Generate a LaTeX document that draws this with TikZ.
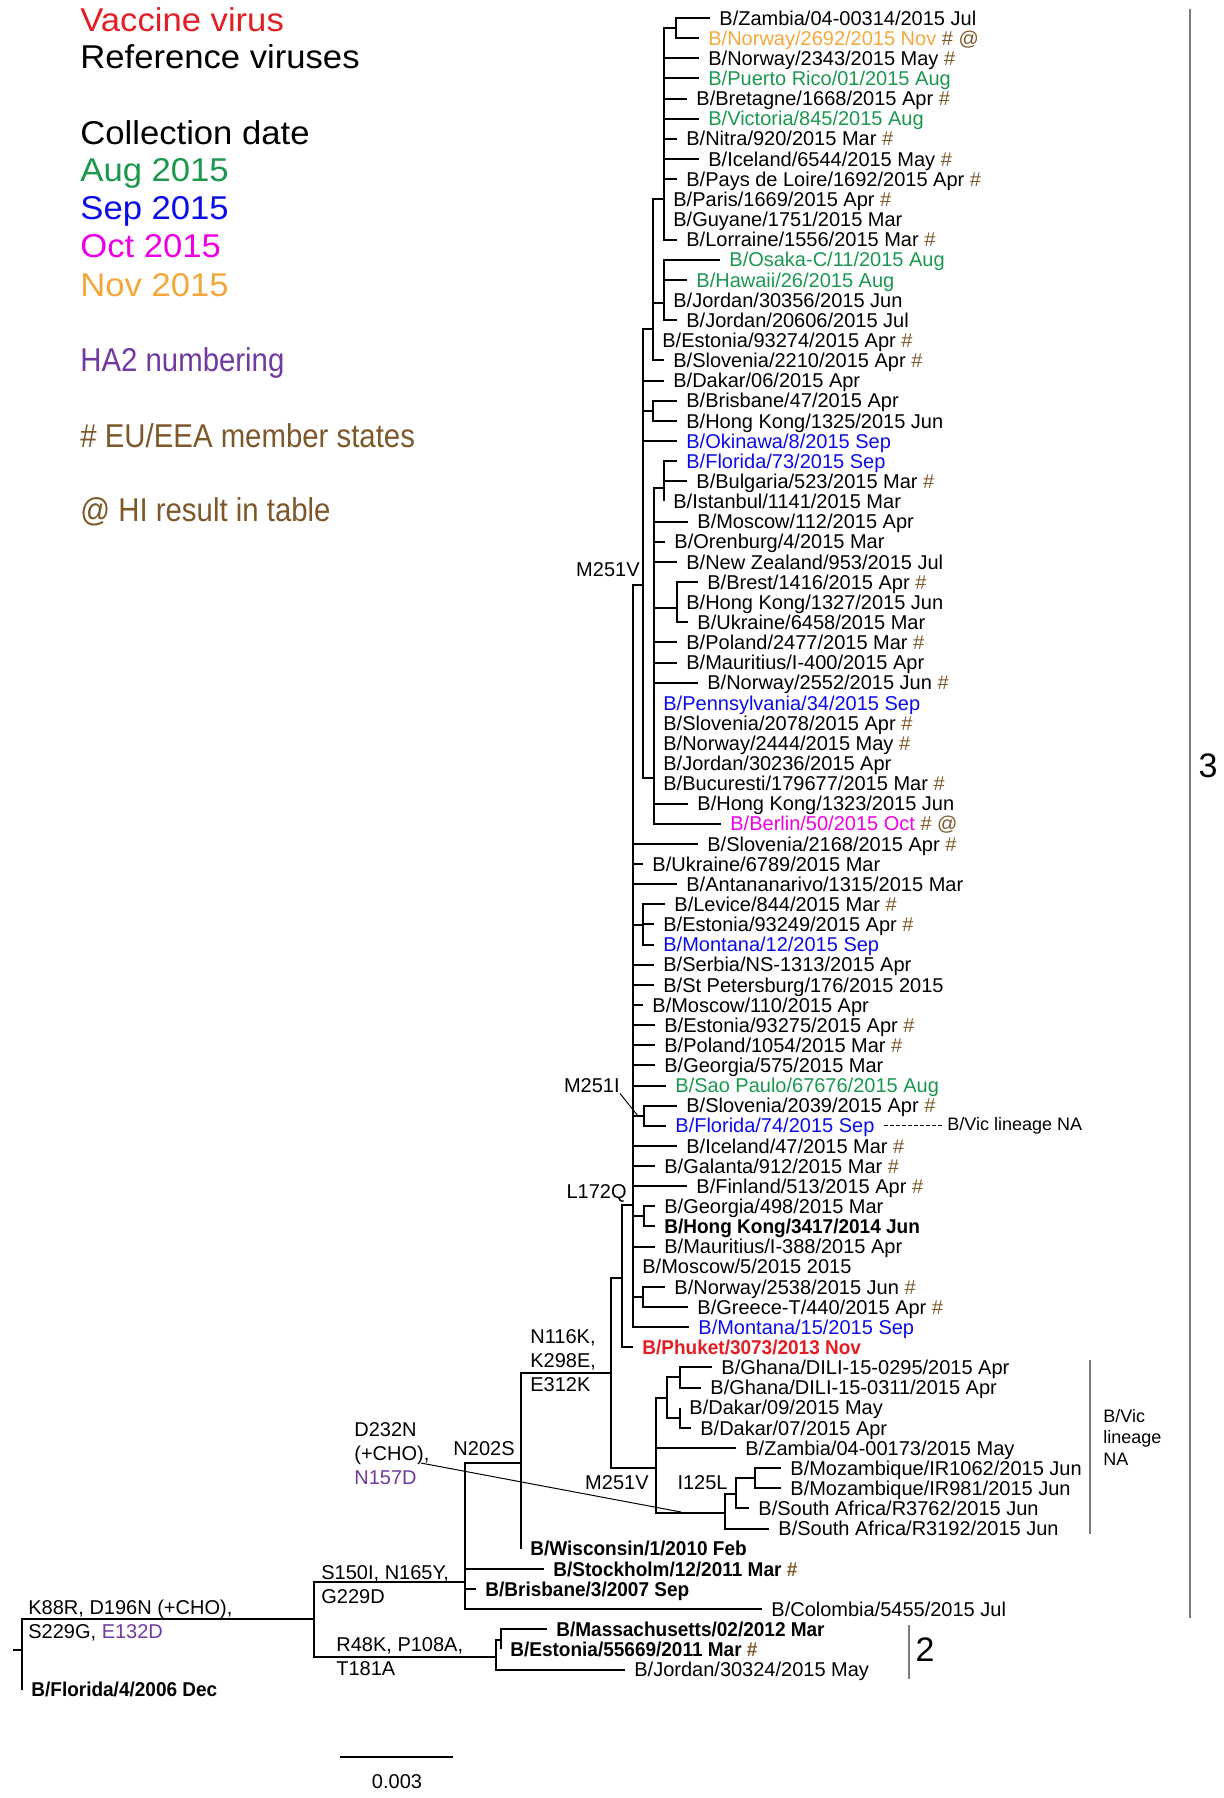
\documentclass[tikz,border=0pt]{standalone}
\usepackage{fontspec}
\setmainfont{Liberation Sans}
\newfontfamily\legwide{Liberation Sans}[FakeStretch=1.05]
\newfontfamily\legnarrow{Liberation Sans}[FakeStretch=0.89]
\newfontfamily\refnarrow{Liberation Sans}[FakeStretch=0.95]
\usepackage{xcolor}
\usepackage{tikz}
\usetikzlibrary{positioning}

\definecolor{vacred}{RGB}{227,30,36}
\definecolor{auggreen}{RGB}{27,152,78}
\definecolor{sepblue}{RGB}{12,12,232}
\definecolor{octmagenta}{RGB}{238,0,230}
\definecolor{novorange}{RGB}{244,168,60}
\definecolor{ha2purple}{RGB}{112,58,160}
\definecolor{eubrown}{RGB}{125,88,42}
\definecolor{bargray}{RGB}{125,125,125}

\newcommand{\eumark}{\textcolor{eubrown}{\#}}
\newcommand{\himark}{\textcolor{eubrown}{@}}

\begin{document}
\begin{tikzpicture}[
    x=0.5pt, y=-0.5pt,
    brline/.style={line width=1pt, black},
    leader/.style={line width=0.5pt, black},
    leaf/.style={anchor=west, inner xsep=4.5pt, inner ysep=0pt, font=\fontsize{10}{12}\selectfont, text height=7.2pt, text depth=0pt},
    refleaf/.style={leaf, font=\refnarrow\fontsize{10}{12}\selectfont\bfseries},
    mut/.style={inner sep=0pt, font=\fontsize{10}{12}\selectfont, align=left},
    legtext/.style={anchor=west, inner sep=0pt, font=\legwide\fontsize{16.5}{19}\selectfont, text height=11.8pt, text depth=0pt},
    legsmall/.style={legtext, font=\legnarrow\fontsize{16.5}{19}\selectfont},
    vicnote/.style={anchor=west, inner xsep=2pt, inner ysep=0pt, font=\fontsize{9}{10.75}\selectfont, align=left},
    cladebar/.style={draw=bargray, line width=1.2pt},
    cladenum/.style={inner sep=0pt, font=\fontsize{17}{20}\selectfont}
]
\useasboundingbox (0,0) rectangle (1223,1798);

% Legend
\node[legtext, text=vacred] (legVaccine) at (80,19.5) {Vaccine virus};
\node[legtext] (legReference) at (80,57) {Reference viruses};
\node[legtext] (legCollection) at (80,133) {Collection date};
\node[legtext, text=auggreen] (legAug) at (80,170) {Aug 2015};
\node[legtext, text=sepblue] (legSep) at (80,208) {Sep 2015};
\node[legtext, text=octmagenta] (legOct) at (80,246) {Oct 2015};
\node[legtext, text=novorange] (legNov) at (80,285) {Nov 2015};
\node[legsmall, text=ha2purple] (legHA2) at (80,360) {HA2 numbering};
\node[legsmall, text=eubrown] (legEU) at (80,436) {\# EU/EEA member states};
\node[legsmall, text=eubrown] (legHI) at (80,510) {@ HI result in table};

% Leaves
\node[leaf] (lZambiaA) at (710,18) {B/Zambia/04-00314/2015 Jul};
\node[leaf, text=novorange] (lNorway2692) at (699,38.1) {B/Norway/2692/2015 Nov \eumark\ \himark};
\node[leaf] (lNorway2343) at (699,58.3) {B/Norway/2343/2015 May \eumark};
\node[leaf, text=auggreen] (lPuertoRico) at (699,78.4) {B/Puerto Rico/01/2015 Aug};
\node[leaf] (lBretagne) at (687,98.6) {B/Bretagne/1668/2015 Apr \eumark};
\node[leaf, text=auggreen] (lVictoria) at (699,118.7) {B/Victoria/845/2015 Aug};
\node[leaf] (lNitra) at (677,138.8) {B/Nitra/920/2015 Mar \eumark};
\node[leaf] (lIceland6544) at (699,159) {B/Iceland/6544/2015 May \eumark};
\node[leaf] (lPaysLoire) at (677,179.1) {B/Pays de Loire/1692/2015 Apr \eumark};
\node[leaf] (lParis) at (664,199.3) {B/Paris/1669/2015 Apr \eumark};
\node[leaf] (lGuyane) at (664,219.4) {B/Guyane/1751/2015 Mar};
\node[leaf] (lLorraine) at (677,239.5) {B/Lorraine/1556/2015 Mar \eumark};
\node[leaf, text=auggreen] (lOsaka) at (720,259.7) {B/Osaka-C/11/2015 Aug};
\node[leaf, text=auggreen] (lHawaii) at (687,279.8) {B/Hawaii/26/2015 Aug};
\node[leaf] (lJordan30356) at (664,300) {B/Jordan/30356/2015 Jun};
\node[leaf] (lJordan20606) at (677,320.1) {B/Jordan/20606/2015 Jul};
\node[leaf] (lEstonia93274) at (653,340.2) {B/Estonia/93274/2015 Apr \eumark};
\node[leaf] (lSlovenia2210) at (664,360.4) {B/Slovenia/2210/2015 Apr \eumark};
\node[leaf] (lDakar06) at (664,380.5) {B/Dakar/06/2015 Apr};
\node[leaf] (lBrisbane47) at (677,400.7) {B/Brisbane/47/2015 Apr};
\node[leaf] (lHK1325) at (677,420.8) {B/Hong Kong/1325/2015 Jun};
\node[leaf, text=sepblue] (lOkinawa) at (677,441) {B/Okinawa/8/2015 Sep};
\node[leaf, text=sepblue] (lFlorida73) at (677,461.1) {B/Florida/73/2015 Sep};
\node[leaf] (lBulgaria) at (687,481.2) {B/Bulgaria/523/2015 Mar \eumark};
\node[leaf] (lIstanbul) at (664,501.4) {B/Istanbul/1141/2015 Mar};
\node[leaf] (lMoscow112) at (688,521.5) {B/Moscow/112/2015 Apr};
\node[leaf] (lOrenburg) at (665,541.7) {B/Orenburg/4/2015 Mar};
\node[leaf] (lNewZealand) at (677,561.8) {B/New Zealand/953/2015 Jul};
\node[leaf] (lBrest) at (698,581.9) {B/Brest/1416/2015 Apr \eumark};
\node[leaf] (lHK1327) at (677,602.1) {B/Hong Kong/1327/2015 Jun};
\node[leaf] (lUkraine6458) at (688,622.2) {B/Ukraine/6458/2015 Mar};
\node[leaf] (lPoland2477) at (677,642.4) {B/Poland/2477/2015 Mar \eumark};
\node[leaf] (lMauritius400) at (677,662.5) {B/Mauritius/I-400/2015 Apr};
\node[leaf] (lNorway2552) at (698,682.6) {B/Norway/2552/2015 Jun \eumark};
\node[leaf, text=sepblue] (lPennsylvania) at (654,702.8) {B/Pennsylvania/34/2015 Sep};
\node[leaf] (lSlovenia2078) at (654,722.9) {B/Slovenia/2078/2015 Apr \eumark};
\node[leaf] (lNorway2444) at (654,743.1) {B/Norway/2444/2015 May \eumark};
\node[leaf] (lJordan30236) at (654,763.2) {B/Jordan/30236/2015 Apr};
\node[leaf] (lBucuresti) at (654,783.3) {B/Bucuresti/179677/2015 Mar \eumark};
\node[leaf] (lHK1323) at (688,803.5) {B/Hong Kong/1323/2015 Jun};
\node[leaf, text=octmagenta] (lBerlin) at (721,823.6) {B/Berlin/50/2015 Oct \eumark\ \himark};
\node[leaf] (lSlovenia2168) at (698,843.8) {B/Slovenia/2168/2015 Apr \eumark};
\node[leaf] (lUkraine6789) at (643,863.9) {B/Ukraine/6789/2015 Mar};
\node[leaf] (lAntananarivo) at (677,884) {B/Antananarivo/1315/2015 Mar};
\node[leaf] (lLevice) at (665,904.2) {B/Levice/844/2015 Mar \eumark};
\node[leaf] (lEstonia93249) at (654,924.3) {B/Estonia/93249/2015 Apr \eumark};
\node[leaf, text=sepblue] (lMontana12) at (654,944.5) {B/Montana/12/2015 Sep};
\node[leaf] (lSerbia) at (654,964.6) {B/Serbia/NS-1313/2015 Apr};
\node[leaf] (lStPetersburg) at (654,984.8) {B/St Petersburg/176/2015 2015};
\node[leaf] (lMoscow110) at (643,1004.9) {B/Moscow/110/2015 Apr};
\node[leaf] (lEstonia93275) at (655,1025) {B/Estonia/93275/2015 Apr \eumark};
\node[leaf] (lPoland1054) at (655,1045.2) {B/Poland/1054/2015 Mar \eumark};
\node[leaf] (lGeorgia575) at (655,1065.3) {B/Georgia/575/2015 Mar};
\node[leaf, text=auggreen] (lSaoPaulo) at (666,1085.5) {B/Sao Paulo/67676/2015 Aug};
\node[leaf] (lSlovenia2039) at (677,1105.6) {B/Slovenia/2039/2015 Apr \eumark};
\node[leaf, text=sepblue] (lFlorida74) at (666,1125.7) {B/Florida/74/2015 Sep};
\node[leaf] (lIceland47) at (677,1145.9) {B/Iceland/47/2015 Mar \eumark};
\node[leaf] (lGalanta) at (655,1166) {B/Galanta/912/2015 Mar \eumark};
\node[leaf] (lFinland) at (687,1186.2) {B/Finland/513/2015 Apr \eumark};
\node[leaf] (lGeorgia498) at (655,1206.3) {B/Georgia/498/2015 Mar};
\node[refleaf] (lHK3417) at (655,1226.4) {B/Hong Kong/3417/2014 Jun};
\node[leaf] (lMauritius388) at (655,1246.6) {B/Mauritius/I-388/2015 Apr};
\node[leaf] (lMoscow5) at (633,1266.7) {B/Moscow/5/2015 2015};
\node[leaf] (lNorway2538) at (665,1286.9) {B/Norway/2538/2015 Jun \eumark};
\node[leaf] (lGreece) at (688,1307) {B/Greece-T/440/2015 Apr \eumark};
\node[leaf, text=sepblue] (lMontana15) at (689,1327.1) {B/Montana/15/2015 Sep};
\node[refleaf, text=vacred] (lPhuket) at (633,1347.3) {B/Phuket/3073/2013 Nov};
\node[leaf] (lGhana0295) at (712,1367.4) {B/Ghana/DILI-15-0295/2015 Apr};
\node[leaf] (lGhana0311) at (701,1387.6) {B/Ghana/DILI-15-0311/2015 Apr};
\node[leaf] (lDakar09) at (680,1407.7) {B/Dakar/09/2015 May};
\node[leaf] (lDakar07) at (691,1427.8) {B/Dakar/07/2015 Apr};
\node[leaf] (lZambiaB) at (736,1448) {B/Zambia/04-00173/2015 May};
\node[leaf] (lMozambique1062) at (781,1468.1) {B/Mozambique/IR1062/2015 Jun};
\node[leaf] (lMozambique981) at (781,1488.3) {B/Mozambique/IR981/2015 Jun};
\node[leaf] (lSAfrica3762) at (749,1508.4) {B/South Africa/R3762/2015 Jun};
\node[leaf] (lSAfrica3192) at (769,1528.5) {B/South Africa/R3192/2015 Jun};
\node[refleaf] (lWisconsin) at (521,1548.7) {B/Wisconsin/1/2010 Feb};
\node[refleaf] (lStockholm) at (544,1568.8) {B/Stockholm/12/2011 Mar \eumark};
\node[refleaf] (lBrisbane3) at (476,1589) {B/Brisbane/3/2007 Sep};
\node[leaf] (lColombia) at (762,1609.1) {B/Colombia/5455/2015 Jul};
\node[refleaf] (lMassachusetts) at (547,1629.2) {B/Massachusetts/02/2012 Mar};
\node[refleaf] (lEstonia55669) at (501,1649.4) {B/Estonia/55669/2011 Mar \eumark};
\node[leaf] (lJordan30324) at (625,1669.5) {B/Jordan/30324/2015 May};
\node[refleaf] (lFlorida4) at (22,1689.7) {B/Florida/4/2006 Dec};

% Internal nodes
\coordinate (nZN) at (676,28);
\coordinate (nA) at (664,199.3);
\coordinate (nB) at (664,303);
\coordinate (nC) at (653,329);
\coordinate (nBH) at (653,411);
\coordinate (nFB) at (664,488);
\coordinate (nBr) at (677,608);
\coordinate (nE) at (654,778);
\coordinate (nD) at (643,585);
\coordinate (nLev) at (643,925);
\coordinate (nSF) at (644,1116);
\coordinate (nGH) at (644,1216);
\coordinate (nNG) at (643,1297);
\coordinate (nF) at (633,1205);
\coordinate (nG) at (622,1278);
\coordinate (nT) at (680,1377);
\coordinate (nU) at (680,1418);
\coordinate (nS) at (667,1398);
\coordinate (nK) at (755,1478);
\coordinate (nL) at (736,1494);
\coordinate (nJ) at (725,1513);
\coordinate (nI) at (656,1468);
\coordinate (nH) at (611,1373);
\coordinate (nP) at (521,1463);
\coordinate (nM) at (465,1582);
\coordinate (nR) at (501,1640);
\coordinate (nQ) at (496,1657);
\coordinate (nN) at (314,1619);
\coordinate (nRoot) at (22,1650);
\coordinate (nStub) at (13,1650);

% Branches
\draw[brline] (nStub) -- (nRoot);
\draw[brline] (nRoot) |- (nN) (nRoot) |- (lFlorida4);
\draw[brline] (nN) |- (nM) (nN) |- (nQ);
\draw[brline] (nQ) |- (nR) (nQ) |- (lJordan30324);
\draw[brline] (nR) |- (lMassachusetts) (nR) |- (lEstonia55669);
\draw[brline] (nM) |- (nP) (nM) |- (lStockholm) (nM) |- (lBrisbane3) (nM) |- (lColombia);
\draw[brline] (nP) |- (nH) (nP) |- (lWisconsin);
\draw[brline] (nH) |- (nG) (nH) |- (nI);
\draw[brline] (nI) |- (nS) (nI) |- (lZambiaB) (nI) |- (nJ);
\draw[brline] (nS) |- (nT) (nS) |- (nU);
\draw[brline] (nT) |- (lGhana0295) (nT) |- (lGhana0311);
\draw[brline] (nU) |- (lDakar09) (nU) |- (lDakar07);
\draw[brline] (nJ) |- (nL) (nJ) |- (lSAfrica3192);
\draw[brline] (nL) |- (nK) (nL) |- (lSAfrica3762);
\draw[brline] (nK) |- (lMozambique1062) (nK) |- (lMozambique981);
\draw[brline] (nG) |- (nF) (nG) |- (lPhuket);
\draw[brline] (nF) |- (nD) (nF) |- (lSlovenia2168) (nF) |- (lUkraine6789) (nF) |- (lAntananarivo)
    (nF) |- (nLev) (nF) |- (lSerbia) (nF) |- (lStPetersburg) (nF) |- (lMoscow110)
    (nF) |- (lEstonia93275) (nF) |- (lPoland1054) (nF) |- (lGeorgia575) (nF) |- (lSaoPaulo)
    (nF) |- (nSF) (nF) |- (lIceland47) (nF) |- (lGalanta) (nF) |- (lFinland)
    (nF) |- (nGH) (nF) |- (lMauritius388) (nF) |- (lMoscow5) (nF) |- (nNG) (nF) |- (lMontana15);
\draw[brline] (nLev) |- (lLevice) (nLev) |- (lEstonia93249) (nLev) |- (lMontana12);
\draw[brline] (nSF) |- (lSlovenia2039) (nSF) |- (lFlorida74);
\draw[brline] (nGH) |- (lGeorgia498) (nGH) |- (lHK3417);
\draw[brline] (nNG) |- (lNorway2538) (nNG) |- (lGreece);
\draw[brline] (nD) |- (nC) (nD) |- (lDakar06) (nD) |- (nBH) (nD) |- (lOkinawa) (nD) |- (nE);
\draw[brline] (nBH) |- (lBrisbane47) (nBH) |- (lHK1325);
\draw[brline] (nC) |- (nA) (nC) |- (nB) (nC) |- (lEstonia93274) (nC) |- (lSlovenia2210);
\draw[brline] (nA) |- (nZN) (nA) |- (lNorway2343) (nA) |- (lPuertoRico) (nA) |- (lBretagne)
    (nA) |- (lVictoria) (nA) |- (lNitra) (nA) |- (lIceland6544) (nA) |- (lPaysLoire)
    (nA) |- (lParis) (nA) |- (lGuyane) (nA) |- (lLorraine);
\draw[brline] (nZN) |- (lZambiaA) (nZN) |- (lNorway2692);
\draw[brline] (nB) |- (lOsaka) (nB) |- (lHawaii) (nB) |- (lJordan30356) (nB) |- (lJordan20606);
\draw[brline] (nE) |- (nFB) (nE) |- (lMoscow112) (nE) |- (lOrenburg) (nE) |- (lNewZealand)
    (nE) |- (nBr) (nE) |- (lPoland2477) (nE) |- (lMauritius400) (nE) |- (lNorway2552)
    (nE) |- (lPennsylvania) (nE) |- (lSlovenia2078) (nE) |- (lNorway2444) (nE) |- (lJordan30236)
    (nE) |- (lBucuresti) (nE) |- (lHK1323) (nE) |- (lBerlin);
\draw[brline] (nFB) |- (lFlorida73) (nFB) |- (lBulgaria) (nFB) |- (lIstanbul);
\draw[brline] (nBr) |- (lBrest) (nBr) |- (lHK1327) (nBr) |- (lUkraine6458);

% Mutations
\node[mut, anchor=east] (mM251Va) at (640,570) {M251V};
\node[mut, anchor=east] (mM251I) at (620,1086) {M251I};
\node[mut, anchor=east] (mL172Q) at (627,1193) {L172Q};
\node[mut, anchor=west] (mN116K) at (530,1361) {N116K,\\K298E,\\E312K};
\node[mut, anchor=east] (mN202S) at (515,1449) {N202S};
\node[mut, anchor=west] (mD232N) at (354,1454) {D232N\\(+CHO),\\\textcolor{ha2purple}{N157D}};
\node[mut, anchor=east] (mM251Vb) at (649,1483) {M251V};
\node[mut, anchor=east] (mI125L) at (728,1483) {I125L};
\node[mut, anchor=west] (mS150I) at (321,1585) {S150I, N165Y,\\G229D};
\node[mut, anchor=west] (mK88R) at (28,1621) {K88R, D196N (+CHO),\\S229G, \textcolor{ha2purple}{E132D}};
\node[mut, anchor=west] (mR48K) at (336,1657) {R48K, P108A,\\T181A};

\coordinate (pM251I) at (638,1116);
\coordinate (pD232N) at (681,1512);
\draw[leader] (mM251I.south east) -- (pM251I);
\draw[leader] ([xshift=-4.5pt, yshift=-4.5pt]mD232N.east) -- (pD232N);

% B/Vic lineage NA
\node[vicnote] (vicNA) at (943,1125.7) {B/Vic lineage NA};
\draw[leader, dash pattern=on 2pt off 1pt] (lFlorida74.east) -- (vicNA.west);
\draw[bargray, line width=0.8pt] (1090,1360) -- (1090,1534);
\node[vicnote] (vicNAclade) at (1099,1437) {B/Vic\\lineage\\NA};

% Clades
\draw[cladebar] (1190,9) -- (1190,1618);
\node[cladenum] (clade3) at (1208,766) {3};
\draw[cladebar] (909,1625) -- (909,1679);
\node[cladenum] (clade2) at (925,1650) {2};

% Scale
\coordinate (scaleL) at (340,1757);
\coordinate (scaleR) at (453,1757);
\draw[brline] (scaleL) -- (scaleR);
\node[mut] (scaleText) at (397,1782) {0.003};

\end{tikzpicture}
\end{document}
